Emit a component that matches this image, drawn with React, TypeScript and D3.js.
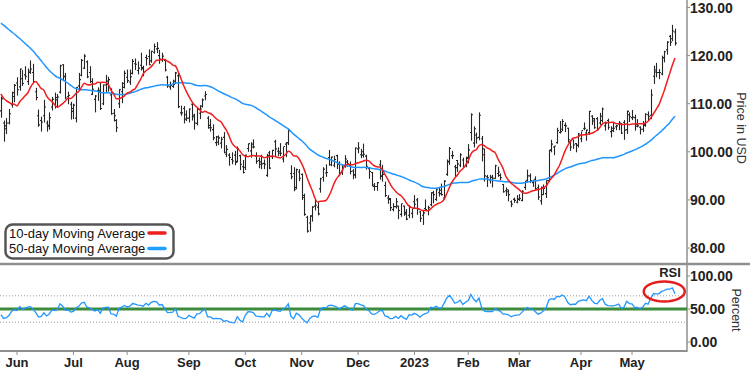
import { useEffect, useRef } from 'react';
import * as d3 from 'd3';

// month axis
const monthLabels = ['Jun', 'Jul', 'Aug', 'Sep', 'Oct', 'Nov', 'Dec', '2023', 'Feb', 'Mar', 'Apr', 'May'];
const monthStartIndex = [6, 27, 47, 70, 91, 112, 133, 154, 174, 193, 216, 235];

const priceTicks = [80, 90, 100, 110, 120, 130];
const rsiTicks = [0, 50, 100];
const rsiBands = [30, 70];
const rsiMidline = 50;

// closes before the first visible bar (needed for the 50-day average and RSI)
const warmupCloses = [
  126.0, 129.0, 133.0, 134.0, 135.8, 137.0, 140.3, 139.8, 142.0, 141.2, 142.3, 144.0, 142.9, 139.8,
  140.7, 144.0, 141.3, 137.0, 137.4, 134.7, 130.9, 129.6, 132.0, 128.8, 129.2, 132.0, 129.0, 126.6,
  121.8, 124.5, 120.3, 116.1, 119.5, 115.0,
  116.3, 117.1, 121.8, 115.9, 116.2, 111.6, 114.5, 111.0, 111.5, 115.5, 114.5, 116.5, 108.7, 108.0, 109.4,
];

// open, high, low, close
const bars: [number, number, number, number][] = [
  [108.5, 111.5, 107.2, 111.0], [106.0, 106.5, 102.2, 105.4], [104.8, 107.0, 103.8, 106.0], [106.0, 108.9, 105.8, 107.9],
  [109.8, 112.5, 109.3, 112.3], [111.5, 114.1, 110.4, 113.8], [114.3, 115.5, 111.8, 112.9], [113.5, 117.3, 112.8, 117.2],
  [115.2, 117.0, 113.8, 114.2], [116.0, 117.8, 115.1, 115.7], [114.6, 117.3, 114.0, 116.8], [116.5, 119.0, 116.3, 117.2],
  [116.5, 118.3, 114.5, 114.6], [112.5, 113.3, 110.8, 111.3], [107.5, 108.8, 105.3, 105.6], [106.5, 107.3, 104.3, 106.2],
  [107.5, 110.8, 106.2, 109.3], [106.0, 106.5, 104.3, 105.3], [105.5, 108.2, 104.7, 107.1], [109.3, 111.4, 108.7, 110.9],
  [109.8, 112.3, 109.1, 110.8], [111.3, 112.0, 109.3, 111.4], [112.4, 118.1, 112.2, 117.9], [118.1, 118.2, 114.8, 115.6],
  [115.7, 116.4, 111.1, 111.2], [111.5, 112.5, 110.0, 111.7], [109.9, 110.4, 106.8, 109.0], [108.4, 110.0, 106.9, 109.7],
  [107.0, 113.4, 106.2, 113.4], [113.7, 116.4, 113.0, 115.0], [115.9, 119.3, 115.8, 119.0], [117.4, 120.3, 117.3, 119.9],
  [118.7, 119.0, 115.4, 115.6], [116.5, 117.8, 114.4, 114.6], [112.0, 115.3, 111.9, 113.0], [110.9, 111.8, 108.3, 111.6],
  [112.7, 113.4, 110.7, 112.8], [112.5, 114.4, 108.8, 109.0], [110.0, 114.0, 109.8, 113.9], [113.9, 116.0, 112.5, 114.7],
  [114.0, 115.6, 112.6, 115.0], [111.8, 113.2, 107.8, 107.9], [108.0, 108.9, 106.4, 107.5], [106.5, 106.8, 104.2, 105.0],
  [110.0, 113.0, 109.2, 112.9], [112.5, 114.5, 110.2, 114.2], [113.4, 116.9, 113.3, 116.3], [115.5, 117.1, 114.4, 114.8],
  [114.5, 117.1, 114.0, 115.6], [116.3, 119.3, 116.2, 118.8], [118.3, 119.4, 117.1, 118.2], [116.9, 118.8, 116.2, 117.4],
  [118.0, 120.6, 117.0, 117.3], [117.5, 117.9, 115.8, 116.6], [119.6, 120.2, 118.0, 119.4], [119.8, 121.3, 118.1, 118.1],
  [118.9, 121.0, 118.6, 120.9], [120.7, 122.5, 120.5, 121.9], [121.4, 122.8, 120.6, 121.5], [120.0, 121.2, 118.4, 119.3],
  [119.1, 120.6, 118.8, 119.9], [119.0, 119.1, 116.8, 117.0], [115.5, 115.8, 113.4, 113.7], [113.5, 114.6, 113.0, 113.8],
  [113.6, 115.0, 113.4, 114.0], [114.7, 116.6, 114.2, 116.4], [115.8, 116.3, 109.2, 109.4], [108.1, 109.6, 107.6, 108.1],
  [109.0, 109.5, 106.0, 106.8], [107.7, 108.6, 106.5, 107.0], [107.0, 109.0, 106.2, 108.9], [109.9, 110.1, 106.6, 107.3],
  [107.6, 107.9, 104.7, 106.0], [105.9, 109.2, 105.6, 108.8], [108.0, 109.7, 106.9, 108.9], [109.5, 111.1, 109.3, 110.8],
  [111.6, 112.6, 110.8, 111.9], [107.0, 107.4, 104.9, 105.0], [105.5, 106.8, 104.3, 105.0], [104.6, 105.7, 102.5, 102.9],
  [101.9, 103.3, 101.3, 103.1], [102.0, 103.4, 101.5, 102.9], [101.8, 103.1, 100.8, 102.6], [103.0, 104.1, 99.8, 99.9],
  [99.5, 101.4, 99.0, 100.5], [99.3, 99.7, 97.2, 98.8], [98.4, 99.9, 97.5, 98.1], [99.3, 100.2, 97.3, 97.8],
  [98.0, 101.1, 97.9, 100.7], [99.2, 99.4, 96.3, 97.4], [96.9, 98.3, 95.6, 95.7], [96.8, 99.4, 96.3, 99.3],
  [100.7, 101.7, 100.1, 101.7], [100.2, 102.0, 98.9, 101.6], [101.0, 102.6, 100.8, 101.0], [99.1, 99.9, 97.6, 98.0],
  [98.2, 98.8, 96.7, 97.9], [97.4, 99.4, 96.5, 97.5], [97.6, 98.4, 96.5, 97.4], [95.1, 99.6, 94.9, 99.2],
  [99.8, 100.2, 96.5, 96.6], [99.0, 100.4, 98.6, 100.3], [102.1, 102.5, 99.2, 100.6], [100.1, 100.9, 99.2, 100.0],
  [99.7, 101.8, 99.2, 99.7], [98.5, 101.0, 97.9, 101.1], [101.6, 102.0, 99.0, 101.9], [101.9, 104.8, 101.5, 104.4],
  [95.5, 97.2, 94.4, 94.8], [95.5, 96.8, 91.9, 92.2], [92.6, 96.5, 92.3, 96.3], [95.8, 96.4, 94.0, 94.5],
  [95.3, 95.5, 90.1, 90.5], [90.9, 91.3, 86.8, 87.0], [86.4, 86.7, 83.3, 83.5], [85.2, 86.8, 83.5, 86.7],
  [86.6, 88.7, 85.6, 88.5], [88.7, 90.2, 87.9, 88.9], [88.5, 89.5, 86.9, 87.1], [92.3, 94.6, 91.6, 94.4],
  [94.7, 96.8, 93.9, 96.4], [95.6, 97.4, 94.9, 95.7], [98.8, 100.4, 97.2, 98.4], [97.3, 99.0, 97.1, 98.9],
  [97.2, 99.2, 96.9, 98.4], [99.2, 99.4, 96.5, 97.4], [97.6, 98.0, 95.1, 95.6], [96.0, 97.2, 95.3, 97.1],
  [97.0, 99.3, 96.8, 98.5], [97.9, 98.3, 97.0, 97.5], [97.2, 98.0, 95.4, 95.9], [96.0, 96.4, 94.4, 95.2],
  [95.2, 100.9, 94.6, 100.8], [100.6, 102.0, 99.8, 100.8], [99.4, 100.6, 98.8, 100.0], [99.3, 101.7, 98.9, 99.5],
  [99.1, 99.4, 96.4, 97.0], [96.5, 96.8, 94.5, 95.9], [95.7, 95.8, 92.9, 93.1], [92.8, 93.5, 92.0, 92.8],
  [92.8, 93.7, 92.0, 93.6], [97.3, 98.3, 94.3, 95.0], [94.9, 97.3, 93.9, 95.3], [93.0, 93.8, 90.7, 90.9],
  [90.4, 91.0, 89.3, 90.3], [90.1, 90.4, 87.8, 88.4], [88.0, 89.3, 87.7, 88.6], [88.6, 90.4, 88.3, 89.6],
  [88.7, 88.8, 86.1, 87.8], [87.0, 89.2, 86.6, 89.2], [88.7, 88.8, 86.8, 87.4], [87.1, 88.1, 85.9, 86.0],
  [86.8, 88.9, 86.3, 88.5], [87.2, 88.1, 86.3, 88.2], [89.6, 91.0, 88.3, 89.1], [90.0, 90.4, 87.0, 88.1],
  [87.5, 87.7, 85.5, 86.2], [86.8, 87.7, 84.9, 87.3], [88.2, 90.1, 87.9, 88.0], [87.8, 88.8, 86.9, 88.4],
  [89.0, 91.6, 88.8, 91.5], [91.5, 91.9, 89.4, 91.1], [90.1, 92.3, 89.9, 92.1], [91.5, 92.6, 90.8, 91.3],
  [92.0, 93.4, 91.0, 91.1], [90.4, 94.1, 90.1, 93.9], [95.3, 98.4, 95.1, 98.0], [97.9, 101.0, 97.4, 100.7],
  [99.2, 100.2, 98.6, 99.2], [96.9, 97.3, 94.9, 96.7], [98.2, 98.3, 95.9, 97.5], [97.2, 99.7, 96.9, 99.4],
  [98.3, 98.8, 96.8, 96.9], [97.1, 99.0, 96.9, 98.8], [98.6, 101.6, 97.7, 100.4], [104.0, 108.0, 102.4, 107.7],
  [101.8, 105.3, 101.0, 104.8], [103.5, 104.0, 101.8, 102.9], [103.0, 108.2, 102.5, 107.6], [102.7, 103.3, 98.1, 99.4],
  [100.6, 100.6, 93.9, 95.0], [94.8, 95.2, 92.8, 94.6], [94.1, 95.2, 93.5, 94.7], [94.7, 95.2, 92.7, 94.5],
  [94.5, 97.3, 94.5, 97.1], [95.5, 96.9, 94.9, 95.8], [95.1, 95.5, 94.2, 94.6], [93.2, 93.3, 91.6, 91.7],
  [91.9, 92.6, 90.9, 91.7], [92.1, 92.1, 89.8, 91.1], [89.6, 89.9, 88.6, 89.1], [90.1, 90.5, 89.5, 89.9],
  [89.5, 91.0, 89.4, 90.1], [90.2, 91.2, 89.9, 90.3], [89.9, 92.0, 89.8, 91.8], [92.6, 94.0, 92.2, 93.7],
  [94.1, 96.3, 93.7, 95.0], [95.0, 95.5, 93.6, 94.0], [93.6, 94.2, 92.8, 94.0], [94.3, 94.9, 92.2, 92.3],
  [92.5, 93.2, 90.1, 90.6], [89.8, 92.8, 89.1, 91.1], [92.6, 93.2, 91.1, 92.4], [91.3, 94.0, 90.5, 94.0],
  [94.0, 100.4, 93.9, 100.3], [100.4, 102.5, 100.0, 101.6], [101.0, 101.2, 99.4, 101.2], [101.9, 105.0, 101.8, 104.4],
  [104.0, 106.4, 103.9, 104.2], [104.7, 106.8, 104.4, 106.3], [105.5, 106.1, 104.2, 105.4], [104.9, 105.0, 102.0, 102.5],
  [102.1, 102.4, 100.3, 101.0], [102.5, 102.5, 100.7, 101.4], [101.7, 101.8, 100.0, 101.4], [101.3, 103.9, 101.0, 103.7],
  [102.7, 104.2, 102.1, 104.4], [104.8, 106.1, 104.6, 104.9], [103.9, 104.6, 102.4, 104.5], [104.0, 108.5, 103.6, 108.4],
  [107.4, 107.6, 105.7, 106.4], [106.9, 107.0, 104.9, 105.0], [106.9, 107.2, 104.5, 104.6], [106.0, 108.1, 105.7, 107.4],
  [106.5, 109.2, 106.2, 108.9], [105.4, 106.3, 104.5, 105.9], [106.5, 106.9, 104.7, 105.1], [104.2, 105.3, 103.1, 104.9],
  [104.4, 106.2, 104.2, 104.9], [105.2, 105.6, 104.6, 105.4], [105.8, 106.4, 104.6, 106.0], [105.8, 106.0, 103.8, 103.9],
  [106.1, 106.6, 102.6, 104.5], [104.6, 108.6, 103.8, 108.4], [107.7, 108.2, 106.3, 107.3], [107.1, 108.7, 106.7, 107.2],
  [107.1, 107.7, 104.5, 105.3], [105.7, 106.8, 105.2, 105.4], [105.1, 105.3, 103.7, 104.7], [104.7, 106.4, 104.2, 105.6],
  [105.5, 108.0, 105.3, 107.8], [107.7, 108.4, 106.7, 107.4], [107.6, 113.0, 106.9, 111.8], [115.7, 117.9, 114.2, 116.6],
  [117.0, 118.5, 115.6, 116.5], [116.5, 117.2, 115.2, 116.5], [116.2, 120.0, 116.0, 119.5], [119.6, 121.0, 118.7, 120.8],
  [121.2, 123.0, 120.3, 122.8], [124.0, 124.3, 122.1, 122.8], [123.5, 126.4, 123.1, 125.1], [124.9, 125.6, 122.2, 122.6],
];

function movingAverage(values: number[], period: number, offset: number) {
  const out: number[] = [];
  for (let i = offset; i < values.length; i++) {
    out.push(d3.mean(values.slice(i - period + 1, i + 1)) as number);
  }
  return out;
}

function wilderRsi(values: number[], period: number, offset: number) {
  const out: number[] = [];
  let avgGain = 0;
  let avgLoss = 0;
  for (let i = 1; i < values.length; i++) {
    const ch = values[i] - values[i - 1];
    const gain = Math.max(ch, 0);
    const loss = Math.max(-ch, 0);
    if (i <= period) {
      avgGain += gain / period;
      avgLoss += loss / period;
    } else {
      avgGain = (avgGain * (period - 1) + gain) / period;
      avgLoss = (avgLoss * (period - 1) + loss) / period;
    }
    if (i >= offset) out.push(avgLoss === 0 ? 100 : 100 - 100 / (1 + avgGain / avgLoss));
  }
  return out;
}

export default function App() {
  const svgRef = useRef<SVGSVGElement>(null);

  useEffect(() => {
    if (!svgRef.current) return;
    const svg = d3.select(svgRef.current);
    svg.selectAll('*').remove();

    const width = 750;
    const axisX = 687;
    const axisColor = '#8f8f8f';
    const boldFont = '"Liberation Sans", Arial, sans-serif';

    const allCloses = warmupCloses.concat(bars.map(b => b[3]));
    const offset = warmupCloses.length;
    const ma10 = movingAverage(allCloses, 10, offset);
    const ma50 = movingAverage(allCloses, 50, offset);
    const rsi = wilderRsi(allCloses, 14, offset);

    const x = d3.scaleLinear().domain([0, bars.length - 1]).range([0.9, 675]);
    const y = d3.scaleLinear().domain([80, 130]).range([248, 7.5]);
    const yr = d3.scaleLinear().domain([0, 100]).range([342, 276]);

    svg.append('rect').attr('width', width).attr('height', 370).attr('fill', '#fff');

    // price bars
    const g = svg.append('g').attr('stroke', '#262626').attr('stroke-width', 1.1);
    bars.forEach((b, i) => {
      const cx = Math.round(x(i)) + 0.5;
      g.append('line').attr('x1', cx).attr('x2', cx).attr('y1', y(b[1])).attr('y2', y(b[2]) + 0.5);
      g.append('line').attr('x1', cx - 1.5).attr('x2', cx).attr('y1', y(b[0])).attr('y2', y(b[0]));
      g.append('line').attr('x1', cx).attr('x2', cx + 1.5).attr('y1', y(b[3])).attr('y2', y(b[3]));
    });

    const line = d3.line<number>().x((_, i) => x(i)).y(d => y(d)).curve(d3.curveMonotoneX);
    svg.append('path').datum(ma50).attr('d', line).attr('fill', 'none')
      .attr('stroke', '#2196ff').attr('stroke-width', 1.5);
    svg.append('path').datum(ma10).attr('d', line).attr('fill', 'none')
      .attr('stroke', '#f01e1e').attr('stroke-width', 1.5);

    // panel separator and axes
    svg.append('line').attr('x1', 0).attr('x2', width).attr('y1', 264).attr('y2', 264)
      .attr('stroke', axisColor).attr('stroke-width', 2.5);
    svg.append('line').attr('x1', axisX).attr('x2', axisX).attr('y1', 0).attr('y2', 352)
      .attr('stroke', axisColor).attr('stroke-width', 1.5);
    svg.append('line').attr('x1', 0).attr('x2', axisX).attr('y1', 351).attr('y2', 351)
      .attr('stroke', axisColor).attr('stroke-width', 2);

    priceTicks.forEach(t => {
      svg.append('line').attr('x1', axisX).attr('x2', axisX + 3).attr('y1', y(t)).attr('y2', y(t))
        .attr('stroke', axisColor);
      svg.append('text').attr('x', 690).attr('y', y(t) + 5).attr('font-family', boldFont)
        .attr('font-weight', 'bold').attr('font-size', 14).attr('fill', '#222').text(t.toFixed(2));
    });
    svg.append('text').attr('transform', `translate(737,128) rotate(90)`).attr('text-anchor', 'middle')
      .attr('font-family', boldFont).attr('font-size', 12.5).attr('fill', '#333').text('Price in USD');

    // RSI panel
    rsiBands.forEach(v => {
      svg.append('line').attr('x1', 0).attr('x2', axisX).attr('y1', yr(v)).attr('y2', yr(v))
        .attr('stroke', '#9a9a9a').attr('stroke-width', 1).attr('stroke-dasharray', '1,2');
    });
    svg.append('line').attr('x1', 0).attr('x2', axisX).attr('y1', yr(rsiMidline)).attr('y2', yr(rsiMidline))
      .attr('stroke', '#3d8b3d').attr('stroke-width', 3);
    const rsiLine = d3.line<number>().x((_, i) => x(i)).y(d => yr(d));
    svg.append('path').datum(rsi).attr('d', rsiLine).attr('fill', 'none')
      .attr('stroke', '#2196ff').attr('stroke-width', 1.3);

    rsiTicks.forEach(t => {
      svg.append('line').attr('x1', axisX).attr('x2', axisX + 3).attr('y1', yr(t)).attr('y2', yr(t))
        .attr('stroke', axisColor);
      svg.append('text').attr('x', 690).attr('y', yr(t) + 5).attr('font-family', boldFont)
        .attr('font-weight', 'bold').attr('font-size', 14).attr('fill', '#222').text(t.toFixed(2));
    });
    svg.append('text').attr('transform', `translate(732,310) rotate(90)`).attr('text-anchor', 'middle')
      .attr('font-family', boldFont).attr('font-size', 12.5).attr('fill', '#333').text('Percent');

    svg.append('text').attr('x', 670).attr('y', 276.5).attr('text-anchor', 'middle').attr('font-family', boldFont)
      .attr('font-weight', 'bold').attr('font-size', 13).attr('fill', '#222').text('RSI');
    const last = rsi.length - 1;
    svg.append('ellipse').attr('cx', x(last - 4)).attr('cy', yr(d3.mean(rsi.slice(last - 8)) as number))
      .attr('rx', 20.5).attr('ry', 10).attr('fill', 'none').attr('stroke', '#e41e1e').attr('stroke-width', 2.5);

    // month ticks
    monthStartIndex.forEach((idx, k) => {
      const mx = x(idx);
      svg.append('line').attr('x1', mx).attr('x2', mx).attr('y1', 351).attr('y2', 355)
        .attr('stroke', axisColor).attr('stroke-width', 1);
      svg.append('text').attr('x', mx).attr('y', 366.5).attr('text-anchor', 'middle').attr('font-family', boldFont)
        .attr('font-weight', 'bold').attr('font-size', 13).attr('fill', '#222').text(monthLabels[k]);
    });

    // legend
    const legend = svg.append('g');
    legend.append('rect').attr('x', 5.5).attr('y', 224.5).attr('width', 168).attr('height', 34).attr('rx', 7)
      .attr('fill', '#fff').attr('stroke', '#555').attr('stroke-width', 2.5);
    const items = [
      { label: '10-day Moving Average', color: '#f01e1e' },
      { label: '50-day Moving Average', color: '#1ea0ff' },
    ];
    items.forEach((it, i) => {
      const ty = 237.5 + i * 15.5;
      legend.append('text').attr('x', 9).attr('y', ty).attr('font-family', boldFont).attr('font-size', 13)
        .attr('fill', '#111').text(it.label);
      legend.append('line').attr('x1', 149).attr('x2', 165).attr('y1', ty - 4.5).attr('y2', ty - 4.5)
        .attr('stroke', it.color).attr('stroke-width', 3.5).attr('stroke-linecap', 'round');
    });
  }, []);

  return (
    <svg ref={svgRef} width={750} height={370} style={{ position: 'absolute', left: 0, top: 0 }} />
  );
}
